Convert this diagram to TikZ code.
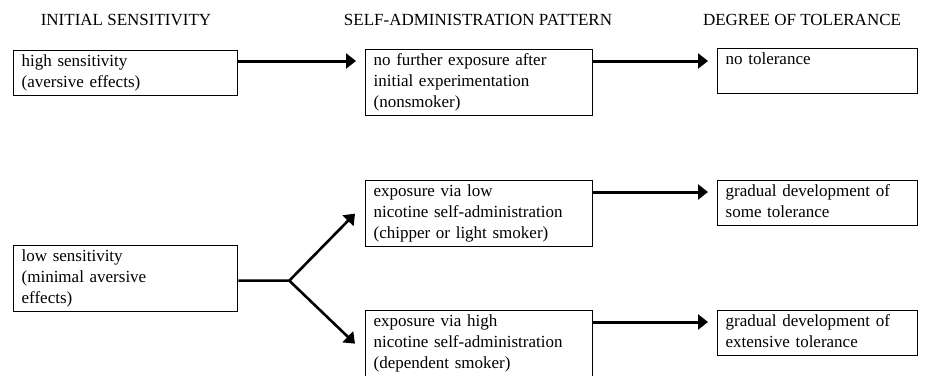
\documentclass[tikz,border=0pt]{standalone}
\usepackage{fontspec}
\setmainfont{Liberation Serif}
\usetikzlibrary{arrows.meta}

\begin{document}
\begin{tikzpicture}[x=1pt, y=-1pt,
  every node/.style={font=\fontsize{17}{21}\selectfont},
  head/.style={anchor=base},
  box/.style={draw, line width=1.3pt, anchor=north west, align=left,
    inner xsep=8pt, inner ysep=1.5pt,
    execute at begin node=\strut, execute at end node=\strut},
  arr/.style={-{Triangle[length=10pt, width=15pt]}, line width=3pt, shorten >=9pt},
  diag/.style={arr, line width=2.6pt, shorten >=0pt}
]
  \useasboundingbox (0,0) rectangle (925,375);

  % Column headings
  \node[head] (h1) at (126,25) {INITIAL SENSITIVITY};
  \node[head] (h2) at (478,25) {SELF-ADMINISTRATION PATTERN};
  \node[head] (h3) at (802,25) {DEGREE OF TOLERANCE};

  \node[box, text width=208pt] (high) at (13,50) {high sensitivity\\(aversive effects)};
  \node[box, text width=211pt] (none) at (365,49) {no further exposure after\\initial experimentation\\(nonsmoker)};
  \node[box, text width=184pt] (notol) at (717,48) {no tolerance\\};

  \node[box, text width=208pt] (low) at (13,245) {low sensitivity\\(minimal aversive\\effects)};
  \node[box, text width=211pt] (lowexp) at (365,180) {exposure via low\\nicotine self-administration\\(chipper or light smoker)};
  \node[box, text width=211pt] (highexp) at (365,310) {exposure via high\\nicotine self-administration\\(dependent smoker)};
  \node[box, text width=184pt] (some) at (717,180) {gradual development of\\some tolerance};
  \node[box, text width=184pt] (ext) at (717,310) {gradual development of\\extensive tolerance};

  \coordinate (r1) at ([yshift=-11pt]high.north east);
  \coordinate (r2) at (r1 -| none.east);
  \coordinate (r3) at ([yshift=-12pt]lowexp.north east);
  \coordinate (r4) at ([yshift=-12pt]highexp.north east);
  \draw[arr] (r1) -- (r1 -| none.west);
  \draw[arr] (r2) -- (r2 -| notol.west);
  \draw[arr] (r3) -- (r3 -| some.west);
  \draw[arr] (r4) -- (r4 -| ext.west);

  % Branch from low sensitivity
  \coordinate (fork) at ([xshift=51pt, yshift=-2pt]low.east);
  \draw[diag] (low.east |- fork) -- (fork) -- ([xshift=-10pt]lowexp.west);
  \draw[diag] (fork) -- ([xshift=-10pt]highexp.west);
\end{tikzpicture}
\end{document}
